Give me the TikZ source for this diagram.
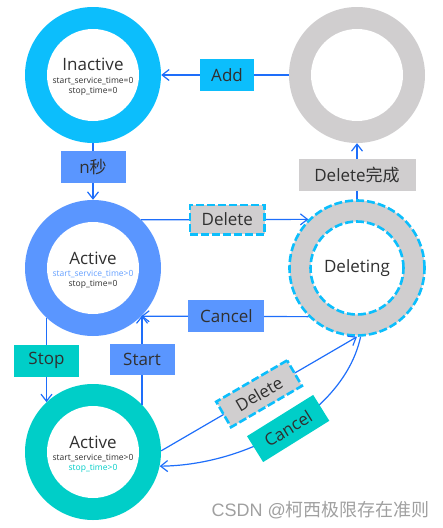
\documentclass[tikz,border=0pt]{standalone}
\usepackage{fontspec}
\setmainfont{Open Sans}
\newfontfamily\cjk{Noto Sans CJK SC}
\newfontfamily\wmfont{Liberation Sans}
\usetikzlibrary{arrows.meta}
\definecolor{cyanr}{RGB}{12,190,252}
\definecolor{grayr}{RGB}{208,206,207}
\definecolor{bluer}{RGB}{90,150,255}
\definecolor{tealr}{RGB}{0,206,200}
\definecolor{linec}{RGB}{30,110,250}
\definecolor{txt}{RGB}{48,48,48}
\definecolor{lightbluet}{RGB}{100,160,255}
\definecolor{wmgray}{RGB}{160,160,160}
\tikzset{
  ring/.style={circle, inner sep=0pt, minimum size=136pt, fill=#1},
  hole/.style={circle, inner sep=0pt, minimum size=92pt, fill=white},
  dashcy/.style={draw=cyanr, line width=2.6pt, dash pattern=on 8pt off 3pt},
  conn/.style={draw=linec, line width=1.2pt, -{Straight Barb[length=7pt,width=11pt,line width=1.2pt]}},
  lbl/.style={fill=#1, text=txt, inner sep=0pt, minimum height=32pt, font=\fontsize{17}{20}\selectfont},
  dlbl/.style={lbl=grayr, dashcy, minimum height=29.5pt},
  ttl/.style={text=txt, inner sep=0pt, anchor=base, font=\fontsize{17}{20}\selectfont},
  sml/.style={text=txt, inner sep=0pt, anchor=base, font=\fontsize{8.5}{10}\selectfont},
}
\begin{document}
\begin{tikzpicture}[x=1pt,y=-1pt]
\useasboundingbox (0,0) rectangle (443,528);
% states
\node[ring=cyanr] (inact) at (93,75) {};
\node[hole] (inacth) at (inact) {};
\node[ring=grayr] (gone) at (357,75) {};
\node[hole] (goneh) at (gone) {};
\node[ring=bluer] (act) at (93,268) {};
\node[hole] (acth) at (act) {};
\node[ring=tealr] (stopped) at (93,452) {};
\node[hole] (stoppedh) at (stopped) {};
\node[circle, inner sep=0pt, minimum size=135pt, fill=grayr, dashcy] (del) at (357,268) {};
\node[circle, inner sep=0pt, minimum size=93pt, fill=white, dashcy] (delh) at (del) {};
% texts in states
\node[ttl] (inactT) at ([yshift=4.3pt]inact.center) {Inactive};
\node[sml] (inactA) at ([yshift=-8.3pt]inact.center) {start\_service\_time=0};
\node[sml] (inactB) at ([yshift=-18.3pt]inact.center) {stop\_time=0};
\node[ttl] (actT) at ([yshift=4pt]act.center) {Active};
\node[sml, text=lightbluet] (actA) at ([yshift=-8pt]act.center) {start\_service\_time>0};
\node[sml] (actB) at ([yshift=-18.5pt]act.center) {stop\_time=0};
\node[ttl] (stT) at ([yshift=4pt]stopped.center) {Active};
\node[sml] (stA) at ([yshift=-8pt]stopped.center) {start\_service\_time>0};
\node[sml, text=tealr] (stB) at ([yshift=-18.5pt]stopped.center) {stop\_time>0};
\node[text=txt, inner sep=0pt, font=\fontsize{17}{20}\selectfont] (delT) at (del) {Deleting};
% transitions
\draw[conn] (gone.west) -- node[pos=0.484, lbl=cyanr, minimum width=54pt] (lAdd) {Add} (inact.east);
\draw[conn] (inact.south) -- node[pos=0.42, lbl=bluer, minimum width=65pt] (lN) {n{\cjk 秒}} (act.north);
\draw[conn] (del.north) -- node[pos=0.44, lbl=grayr, minimum width=117pt] (lDone) {Delete{\cjk 完成}} (gone.south);
\draw[conn] (act.45) -- node[pos=0.515, dlbl, minimum width=74.5pt] (lDel) {Delete} (del.135);
\draw[conn] (del.225) -- node[pos=0.49, lbl=bluer, minimum width=76pt] (lCan) {Cancel} (act.-45);
\draw[conn] (act.227) -- node[pos=0.51, lbl=tealr, minimum width=65pt] (lStop) {Stop} (stopped.133);
\draw[conn] (stopped.44) -- node[pos=0.51, lbl=bluer, minimum width=65pt, minimum height=31pt] (lStart) {Start} (act.-44);
\draw[conn] (stopped.1) -- node[pos=0.5, sloped, dlbl, minimum width=82pt] (lDel2) {Delete} (del.south);
\draw[conn] (del.273) .. controls (345,410) and (250,465) .. node[pos=0.5, sloped, lbl=tealr, minimum width=78pt, minimum height=30.5pt] (lCan2) {Cancel} (stopped.-12);
% watermark
\node[anchor=base east, inner sep=0pt, text=wmgray, font=\fontsize{18}{20}\selectfont] (wm) at (430,516) {{\wmfont CSDN @}{\cjk 柯西极限存在准则}};
\end{tikzpicture}
\end{document}
